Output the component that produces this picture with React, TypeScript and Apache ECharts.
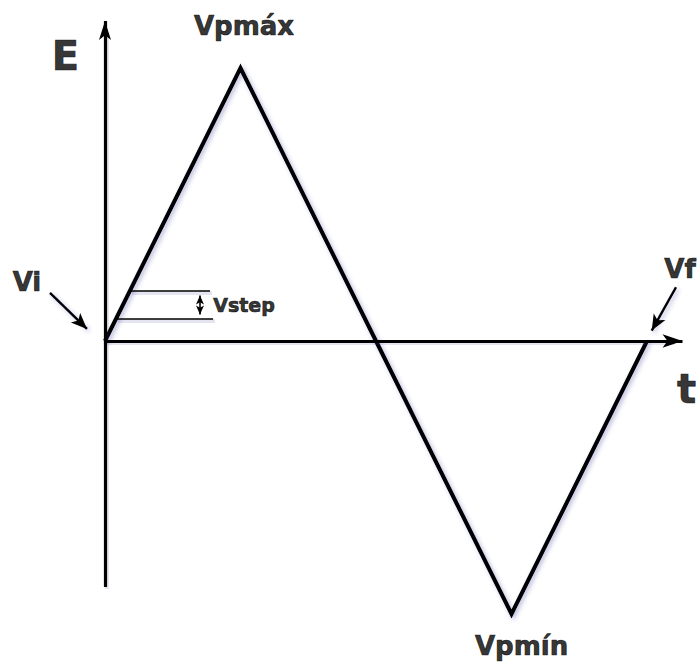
import React, { useEffect, useRef } from "react";
import * as echarts from "echarts";

// Triangular potential sweep: E against t
const waveT = [0, 1, 2, 3, 4];
const waveE = [0, 1, 0, -1, 0];

// The two potential levels that mark one step, and where their ticks end
const stepLevels = [0.081, 0.184];
const stepEndT = [0.797, 0.775];

// Axis extents (data units)
const tAxisExtent = [0, 4.262];
const eAxisExtent = [-0.901, 1.172];

// Annotation texts
const labelTexts = ["E", "t", "Vi", "Vf", "Vstep", "Vpmáx", "Vpmín"];

// Layout of the annotations, in data units
const LAYOUT = {
  view: { tMin: -0.7749, tMax: 4.3838, eMin: -1.1832, eMax: 1.2491 },
  // one pixel in data units, used for the soft drop shadow of straight rules
  px: { t: 1 / 135.5, e: 1 / 273 },
  stepArrow: { t: 0.701, from: 0.097, to: 0.167 },
  viArrow: [[-0.406, 0.176], [-0.133, 0.044]],
  vfArrow: [[4.214, 0.197], [4.035, 0.038]],
  labels: [
    { t: -0.292, e: 1.044, size: 40 },
    { t: 4.292, e: -0.176, size: 40 },
    { t: -0.576, e: 0.216, size: 26 },
    { t: 4.244, e: 0.264, size: 26 },
    { t: 1.026, e: 0.132, size: 19 },
    { t: 1.026, e: 1.154, size: 26 },
    { t: 3.074, e: -1.118, size: 26 },
  ],
};

const INK = "#000000";
const SHADOW = {
  shadowColor: "rgba(60,60,150,0.35)",
  shadowBlur: 4,
  shadowOffsetX: 2,
  shadowOffsetY: 2,
};

function seg(a: number[], b: number[], endSymbol: string, size: number[], startSymbol = "none") {
  return [
    { coord: a, symbol: startSymbol, symbolSize: size },
    { coord: b, symbol: endSymbol, symbolSize: size },
  ];
}

function shift(p: number[], dx: number, dy: number) {
  return [p[0] + dx * LAYOUT.px.t, p[1] - dy * LAYOUT.px.e];
}

export default function App() {
  const ref = useRef<HTMLDivElement>(null);

  useEffect(() => {
    if (!ref.current) return;
    const chart = echarts.init(ref.current, undefined, { renderer: "svg" });

    const wave = waveT.map((t, i) => [t, waveE[i]]);
    const tA = [tAxisExtent[0], 0];
    const tB = [tAxisExtent[1], 0];
    const eA = [0, eAxisExtent[0]];
    const eB = [0, eAxisExtent[1]];
    const stepA = stepLevels.map((e) => [e, e]);
    const stepB = stepLevels.map((e, i) => [stepEndT[i], e]);
    const sa = LAYOUT.stepArrow;

    const plain = (width: number, color: string) => ({
      silent: true,
      animation: false,
      label: { show: false },
      lineStyle: { color, width, type: "solid" },
    });

    chart.setOption({
      animation: false,
      backgroundColor: "#ffffff",
      grid: { left: 0, right: 0, top: 0, bottom: 0 },
      xAxis: { type: "value", min: LAYOUT.view.tMin, max: LAYOUT.view.tMax, show: false },
      yAxis: { type: "value", min: LAYOUT.view.eMin, max: LAYOUT.view.eMax, show: false },
      series: [
        {
          // soft shadow under the straight rules
          type: "line",
          data: [],
          silent: true,
          clip: false,
          markLine: {
            ...plain(4, "rgba(70,70,160,0.14)"),
            data: [
              seg(shift(tA, 2, 2), shift(tB, -8, 2), "none", [0, 0]),
              seg(shift(eA, 2, 2), shift(eB, 2, 12), "none", [0, 0]),
              ...stepLevels.map((_, i) => seg(shift(stepA[i], 2, 2), shift(stepB[i], 2, 2), "none", [0, 0])),
            ],
          },
        },
        {
          // axes with arrow heads
          type: "line",
          data: [],
          silent: true,
          clip: false,
          markLine: {
            ...plain(3.2, INK),
            data: [seg(tA, tB, "arrow", [10, 20]), seg(eA, eB, "arrow", [9, 19])],
          },
        },
        {
          // Vstep levels and the double-headed arrow between them
          type: "line",
          data: [],
          silent: true,
          clip: false,
          markLine: {
            ...plain(1.6, INK),
            data: [
              ...stepLevels.map((_, i) => seg(stepA[i], stepB[i], "none", [0, 0])),
              seg([sa.t, sa.from], [sa.t, sa.to], "arrow", [6, 9], "arrow"),
            ],
          },
        },
        {
          // pointers to the initial and final potentials
          type: "line",
          data: [],
          silent: true,
          clip: false,
          markLine: {
            ...plain(2.4, INK),
            lineStyle: { color: INK, width: 2.4, type: "solid", ...SHADOW },
            data: [
              seg(LAYOUT.viArrow[0], LAYOUT.viArrow[1], "arrow", [10, 16]),
              seg(LAYOUT.vfArrow[0], LAYOUT.vfArrow[1], "arrow", [10, 16]),
            ],
          },
        },
        {
          name: "E(t)",
          type: "line",
          data: wave,
          showSymbol: false,
          symbol: "none",
          silent: true,
          clip: false,
          lineStyle: { color: INK, width: 4, join: "miter", ...SHADOW },
        },
        {
          type: "scatter",
          silent: true,
          symbolSize: 0,
          clip: false,
          itemStyle: { color: INK },
          data: labelTexts.map((txt, i) => ({
            value: [LAYOUT.labels[i].t, LAYOUT.labels[i].e],
            label: {
              show: true,
              position: [0, 0],
              formatter: txt,
              fontFamily: "DejaVu Sans",
              fontWeight: "bold",
              fontSize: LAYOUT.labels[i].size,
              color: INK,
              textBorderColor: INK,
              textBorderWidth: 0.7,
              align: "center",
              verticalAlign: "middle",
            },
          })),
        },
      ],
    });

    return () => chart.dispose();
  }, []);

  return (
    <div ref={ref} style={{ position: "fixed", left: 0, top: 0, width: 699, height: 664 }} />
  );
}
